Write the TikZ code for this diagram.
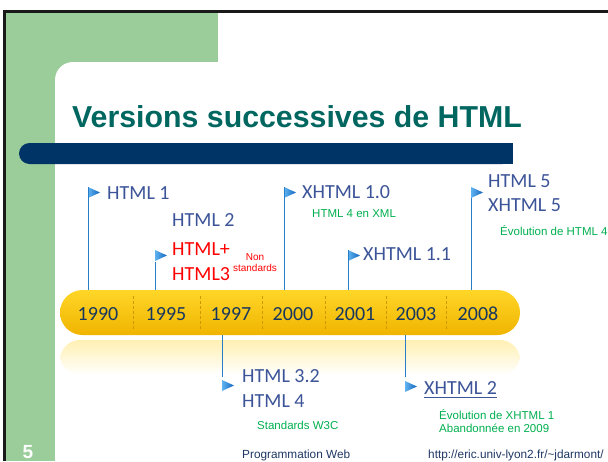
\documentclass[tikz,border=0pt]{standalone}
\usepackage{fontspec}
\setmainfont{Carlito}
\newfontfamily\arialfont{Liberation Sans}

\definecolor{slidegreen}{RGB}{155,205,155}
\definecolor{titleteal}{RGB}{0,102,96}
\definecolor{barnavy}{RGB}{0,51,102}
\definecolor{versionblue}{RGB}{60,84,152}
\definecolor{yearnavy}{RGB}{23,55,94}
\definecolor{notegreen}{RGB}{0,176,80}
\definecolor{stemblue}{RGB}{40,125,200}
\definecolor{goldtop}{RGB}{255,214,40}
\definecolor{goldmid}{RGB}{255,204,0}
\definecolor{goldbot}{RGB}{240,180,0}
\definecolor{trilight}{RGB}{95,180,240}
\definecolor{tridark}{RGB}{20,100,190}
\definecolor{footnavy}{RGB}{31,56,100}

\begin{document}
\begin{tikzpicture}[x=1pt,y=-1pt,
  verlabel/.style={inner sep=0pt, anchor=base west, font=\fontsize{20}{24}\selectfont, text=versionblue},
  redlabel/.style={verlabel, text=red},
  notetext/.style={inner sep=0pt, anchor=base west, font=\arialfont\fontsize{11.5}{13}\selectfont, text=notegreen},
  yeartext/.style={inner sep=0pt, anchor=base, font=\fontsize{20}{24}\selectfont, text=yearnavy},
  foottext/.style={inner sep=0pt, anchor=base west, font=\arialfont\fontsize{11.8}{14}\selectfont, text=footnavy},
  stemline/.style={draw=stemblue, line width=0.7pt},
  divline/.style={draw=goldbot!85!black, densely dashed, line width=0.4pt},
  markertri/.pic={\shade[left color=trilight, right color=tridark] (0,0) -- (0,11) -- (12,5.5) -- cycle;},
]
\useasboundingbox (0,0) rectangle (608,461);
\fill[white] (0,0) rectangle (608,461);

% slide frame: green corner band and black edges
\fill[slidegreen] (5,12) rectangle (218,62);
\fill[slidegreen] (5,12) rectangle (55,461);
\fill[slidegreen] (55,62) rectangle (73,80);
\fill[white] (73,80) circle (18);
\fill[black!90] (3,10) rectangle (608,12.5);
\fill[black!90] (3,10) rectangle (5.5,461);

% title and navy rule
\node[anchor=base west, inner sep=0pt, font=\arialfont\bfseries\fontsize{30.3}{36}\selectfont, text=titleteal] (title) at (72,127) {Versions successives de HTML};
\fill[barnavy, rounded corners=10.5] (19,143) rectangle (513,164);
\fill[barnavy] (490,143) rectangle (513,164);

% reflection under the timeline
\shade[top color=goldmid!30, bottom color=white, rounded corners=20] (60,340) rectangle (520,375);

% timeline bar
\shade[top color=goldtop, middle color=goldmid, bottom color=goldbot, rounded corners=22.5] (60,290) rectangle (520,335);
\foreach \xx in {133,200,262,325,386,446} \draw[divline] (\xx,296) -- (\xx,330);

\node[yeartext] (y1990) at (98,320) {1990};
\node[yeartext] (y1995) at (166,320) {1995};
\node[yeartext] (y1997) at (231,320) {1997};
\node[yeartext] (y2000) at (293,320) {2000};
\node[yeartext] (y2001) at (355,320) {2001};
\node[yeartext] (y2003) at (416,320) {2003};
\node[yeartext] (y2008) at (478,320) {2008};

% stem feet on the bar
\coordinate (b1990) at (88,290);
\coordinate (b1995) at (155,290);
\coordinate (b2000) at (284,290);
\coordinate (b2001) at (348,290);
\coordinate (b2008) at (471,290);
\coordinate (b1997) at (222,335);
\coordinate (b2003) at (405,335);

% markers (top-left corner of each flag)
\coordinate (m1990) at (88,187);
\coordinate (m1995) at (155,250);
\coordinate (m2000) at (284,187);
\coordinate (m2001) at (348,250);
\coordinate (m2008) at (471,187);
\coordinate (m1997) at (222,380);
\coordinate (m2003) at (405,381);
\foreach \m in {m1990,m1995,m2000,m2001,m2008,m1997,m2003} \pic at (\m) {markertri};

% stems
\draw[stemline] (b1990) -- (m1990);
\draw[stemline] (b1995) -- ([yshift=-12pt]m1995);
\draw[stemline] (b2000) -- (m2000);
\draw[stemline] (b2001) -- (m2001);
\draw[stemline] (b2008) -- ([yshift=-11pt]m2008);
\draw[stemline] (b1997) -- ([yshift=3pt]m1997);
\draw[stemline] (b2003) -- ([yshift=4pt]m2003);

% versions above the bar
\node[verlabel] (html1) at (107,199) {HTML 1};
\node[verlabel] (html2) at (172,226) {HTML 2};
\node[redlabel] (htmlplus) at (172,255) {HTML+};
\node[redlabel] (html3) at (172,280) {HTML3};
\node[inner sep=0pt, anchor=base, font=\arialfont\fontsize{10}{11}\selectfont, text=red] (non) at (255,260) {Non};
\node[inner sep=0pt, anchor=base, font=\arialfont\fontsize{10}{11}\selectfont, text=red] (nonstd) at (255,271) {standards};
\node[verlabel] (xhtml10) at (302,198) {XHTML 1.0};
\node[notetext] (note10) at (312,217) {HTML 4 en XML};
\node[verlabel] (xhtml11) at (363,260) {XHTML 1.1};
\node[verlabel] (html5) at (488,187) {HTML 5};
\node[verlabel] (xhtml5) at (488,211) {XHTML 5};
\node[notetext] (note5) at (500,235) {Évolution de HTML 4};

% versions below the bar
\node[verlabel] (html32) at (242,382) {HTML 3.2};
\node[verlabel] (html4) at (242,407) {HTML 4};
\node[notetext] (notew3c) at (257,429) {Standards W3C};
\node[verlabel] (xhtml2) at (424,394) {XHTML 2};
\draw[versionblue, line width=1pt] ([yshift=-3pt]xhtml2.base west) -- ([yshift=-3pt]xhtml2.base east);
\node[notetext] (note2a) at (439,419) {Évolution de XHTML 1};
\node[notetext] (note2b) at (439,432) {Abandonnée en 2009};

% footer
\node[foottext] (course) at (242,458) {Programmation Web};
\node[foottext] (url) at (428,458) {http://eric.univ-lyon2.fr/\string~jdarmont/};
\node[inner sep=0pt, anchor=base, font=\arialfont\bfseries\fontsize{19}{22}\selectfont, text=white] (page) at (28,458) {5};
\end{tikzpicture}
\end{document}
